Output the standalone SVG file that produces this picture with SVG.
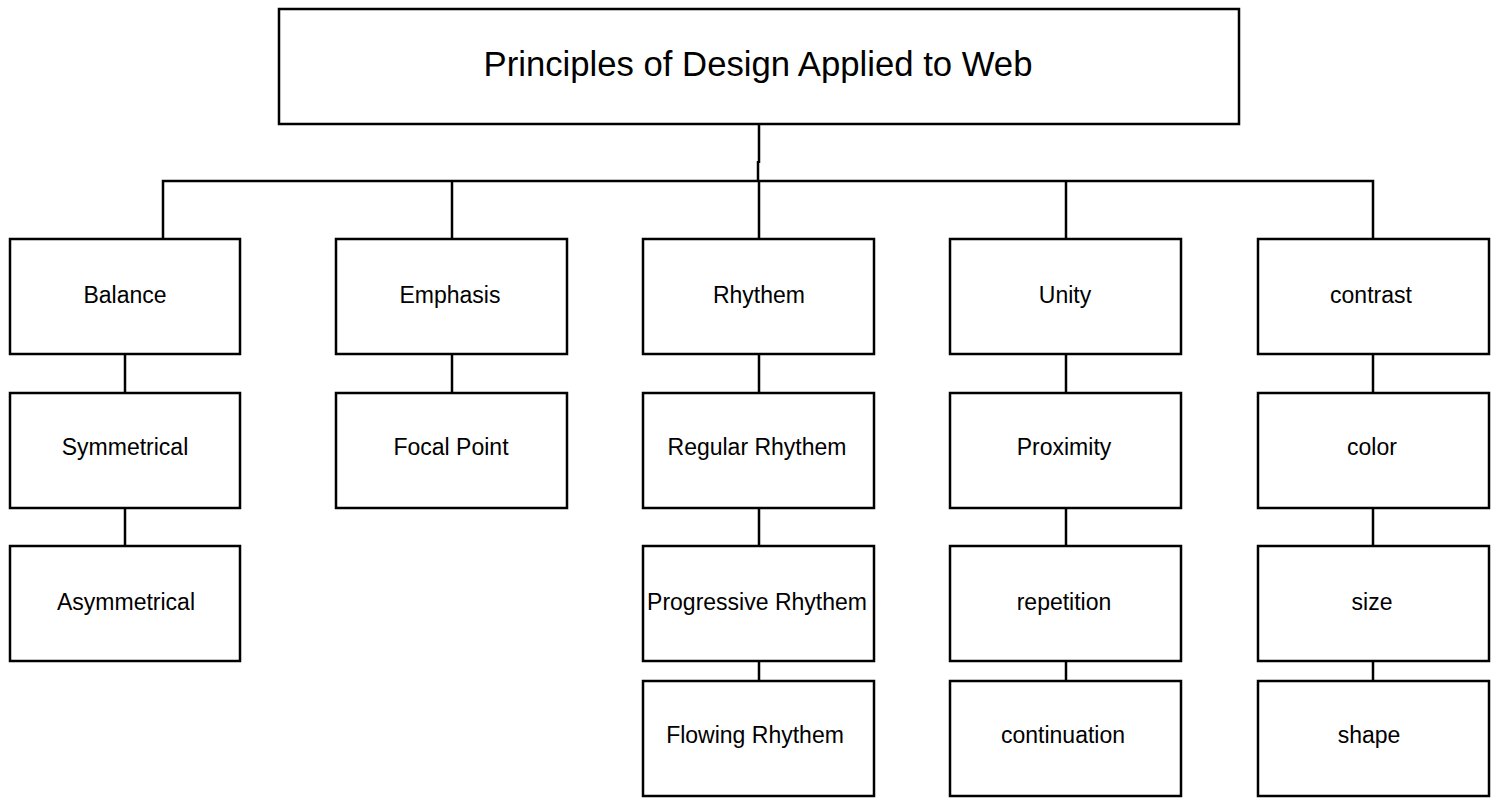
<svg xmlns="http://www.w3.org/2000/svg" width="1492" height="802" viewBox="0 0 1492 802">
  <style>
    .box { fill: #ffffff; stroke: #000000; stroke-width: 2.5; }
    .lbl { font-family: "Liberation Sans", Arial, sans-serif; font-size: 23px; fill: #000000; text-anchor: middle; dominant-baseline: central; }
    .title { font-size: 34.7px; }
    .conn { fill: none; stroke: #000000; stroke-width: 2.5; }
  </style>
  <rect width="1492" height="802" fill="#ffffff"/>

  <g id="connectors">
    <!-- root to branch bar -->
    <path class="conn" d="M759 124 V163 M758 161 V181"/>
    <path class="conn" d="M163 239 V181 H758 M758 181 H1373 V239"/>
    <path class="conn" d="M452 181 V239 M759 181 V239 M1066 181 V239"/>
    <!-- column chains -->
    <path class="conn" d="M125 354 V393 M125 508 V546"/>
    <path class="conn" d="M452 354 V393"/>
    <path class="conn" d="M759 354 V393 M759 508 V546 M759 661 V681"/>
    <path class="conn" d="M1066 354 V393 M1066 508 V546 M1066 661 V681"/>
    <path class="conn" d="M1373 354 V393 M1373 508 V546 M1373 661 V681"/>
  </g>

  <g id="root">
    <rect class="box" x="279" y="9" width="960" height="115"/>
    <text class="lbl title" x="758" y="64">Principles of Design Applied to Web</text>
  </g>

  <g id="balance">
    <rect class="box" x="10" y="239" width="230" height="115"/>
    <text class="lbl" x="125" y="295">Balance</text>
  </g>
  <g id="symmetrical">
    <rect class="box" x="10" y="393" width="230" height="115"/>
    <text class="lbl" x="125" y="447">Symmetrical</text>
  </g>
  <g id="asymmetrical">
    <rect class="box" x="10" y="546" width="230" height="115"/>
    <text class="lbl" x="126" y="602">Asymmetrical</text>
  </g>

  <g id="emphasis">
    <rect class="box" x="336" y="239" width="231" height="115"/>
    <text class="lbl" x="450" y="295">Emphasis</text>
  </g>
  <g id="focal-point">
    <rect class="box" x="336" y="393" width="231" height="115"/>
    <text class="lbl" x="451" y="447">Focal Point</text>
  </g>

  <g id="rhythem">
    <rect class="box" x="643" y="239" width="231" height="115"/>
    <text class="lbl" x="759" y="295">Rhythem</text>
  </g>
  <g id="regular-rhythem">
    <rect class="box" x="643" y="393" width="231" height="115"/>
    <text class="lbl" x="757" y="447">Regular Rhythem</text>
  </g>
  <g id="progressive-rhythem">
    <rect class="box" x="643" y="546" width="231" height="115"/>
    <text class="lbl" x="757" y="602">Progressive Rhythem</text>
  </g>
  <g id="flowing-rhythem">
    <rect class="box" x="643" y="681" width="231" height="115"/>
    <text class="lbl" x="755" y="735">Flowing Rhythem</text>
  </g>

  <g id="unity">
    <rect class="box" x="950" y="239" width="231" height="115"/>
    <text class="lbl" x="1065" y="295">Unity</text>
  </g>
  <g id="proximity">
    <rect class="box" x="950" y="393" width="231" height="115"/>
    <text class="lbl" x="1064" y="447">Proximity</text>
  </g>
  <g id="repetition">
    <rect class="box" x="950" y="546" width="231" height="115"/>
    <text class="lbl" x="1064" y="602">repetition</text>
  </g>
  <g id="continuation">
    <rect class="box" x="950" y="681" width="231" height="115"/>
    <text class="lbl" x="1063" y="735">continuation</text>
  </g>

  <g id="contrast">
    <rect class="box" x="1258" y="239" width="231" height="115"/>
    <text class="lbl" x="1371" y="295">contrast</text>
  </g>
  <g id="color">
    <rect class="box" x="1258" y="393" width="231" height="115"/>
    <text class="lbl" x="1372" y="447">color</text>
  </g>
  <g id="size">
    <rect class="box" x="1258" y="546" width="231" height="115"/>
    <text class="lbl" x="1372" y="602">size</text>
  </g>
  <g id="shape">
    <rect class="box" x="1258" y="681" width="231" height="115"/>
    <text class="lbl" x="1369" y="735">shape</text>
  </g>
</svg>
